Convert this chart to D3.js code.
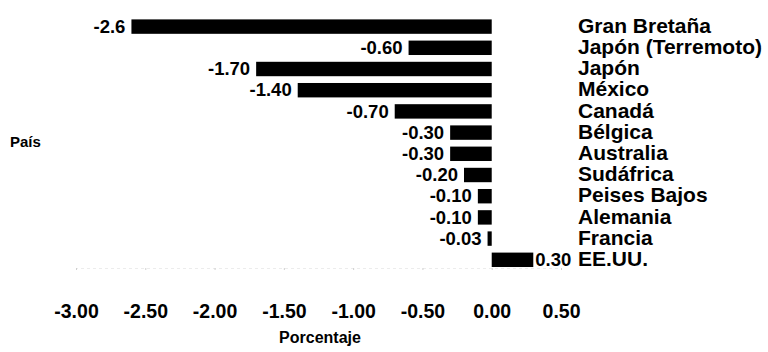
<!DOCTYPE html>
<html>
<head>
<meta charset="utf-8">
<script src="https://cdn.jsdelivr.net/npm/d3@7/dist/d3.min.js"></script>
<style>
  html, body { margin: 0; padding: 0; background: #fff; }
  svg { display: block; }
  text { font-family: "Liberation Sans", Arial, sans-serif; font-weight: bold; fill: #000; }
</style>
</head>
<body>
<svg id="chart" width="768" height="352"></svg>
<script>
// ---- data ----
const countries = ["Gran Bretaña", "Japón (Terremoto)", "Japón", "México", "Canadá", "Bélgica",
                   "Australia", "Sudáfrica", "Peises Bajos", "Alemania", "Francia", "EE.UU."];
const values = [-2.6, -0.60, -1.70, -1.40, -0.70, -0.30, -0.30, -0.20, -0.10, -0.10, -0.03, 0.30];
const valueLabels = ["-2.6", "-0.60", "-1.70", "-1.40", "-0.70", "-0.30", "-0.30", "-0.20", "-0.10", "-0.10", "-0.03", "0.30"];
const tickValues = [-3.0, -2.5, -2.0, -1.5, -1.0, -0.5, 0.0, 0.5];
const tickLabels = ["-3.00", "-2.50", "-2.00", "-1.50", "-1.00", "-0.50", "0.00", "0.50"];
const xTitle = "Porcentaje";
const yTitle = "País";

// ---- chart ----
const svg = d3.select("#chart");

const x = d3.scaleLinear().domain([-3, 0.5]).range([76, 561]);
const y = d3.scaleBand().domain(countries).range([16, 270.4]).paddingInner(0.32).paddingOuter(0.16);

const rows = countries.map((c, i) => ({ c, v: values[i], label: valueLabels[i] }));

// bars
svg.append("g").selectAll("rect").data(rows).join("rect")
  .attr("x", d => x(Math.min(0, d.v)))
  .attr("y", d => y(d.c))
  .attr("width", d => Math.max(1.5, Math.abs(x(d.v) - x(0))))
  .attr("height", y.bandwidth())
  .attr("fill", "#000");

// value labels
svg.append("g").selectAll("text").data(rows).join("text")
  .attr("x", d => d.v < 0 ? x(d.v) - 6 : x(d.v) + 2)
  .attr("y", d => y(d.c) + y.bandwidth() - 1)
  .attr("text-anchor", d => d.v < 0 ? "end" : "start")
  .style("font-size", "18.5px")
  .text(d => d.label);

// country labels
svg.append("g").selectAll("text").data(rows).join("text")
  .attr("x", 578)
  .attr("y", d => y(d.c) + y.bandwidth() - 1)
  .style("font-size", "21px")
  .text(d => d.c);

// faint axis line with ticks
const axisY = 268;
const gAxis = svg.append("g").attr("transform", `translate(0,${axisY})`)
  .call(d3.axisBottom(x).tickValues(tickValues).tickSize(2).tickFormat(""));
gAxis.select(".domain").attr("stroke", "#ececec").attr("stroke-dasharray", "3,3");
gAxis.selectAll(".tick line").attr("stroke", "#cfcfcf");

// tick labels
const gLab = svg.append("g").attr("transform", `translate(0,${axisY})`)
  .call(d3.axisBottom(x).tickValues(tickValues).tickSize(0).tickPadding(36.5)
    .tickFormat((d, i) => tickLabels[i]));
gLab.select(".domain").remove();
gLab.attr("font-family", null).attr("font-size", null);
gLab.selectAll("text").style("font-size", "19.5px").attr("fill", "#000");

// axis titles
svg.append("text").attr("x", 320).attr("y", 343).attr("text-anchor", "middle")
  .style("font-size", "16px").text(xTitle);
svg.append("text").attr("x", 10).attr("y", 147)
  .style("font-size", "15px").text(yTitle);
</script>
</body>
</html>
